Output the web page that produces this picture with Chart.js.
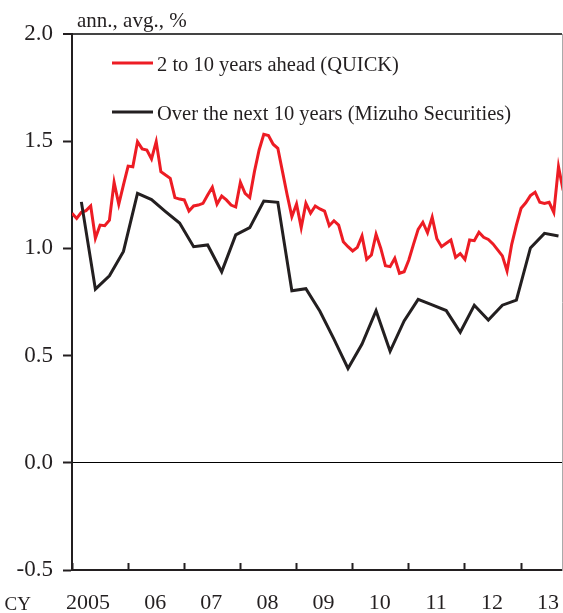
<!DOCTYPE html>
<html><head><meta charset="utf-8">
<script src="https://cdn.jsdelivr.net/npm/chart.js@4.4.1/dist/chart.umd.min.js"></script>
<style>html,body{margin:0;padding:0;background:#fff}#wrap{width:563px;height:613px;position:relative}</style>
</head><body><div id="wrap"><canvas id="c" width="563" height="613"></canvas></div>
<script>
// Calendar-year labels (ticks at January of each year)
const yearLabels = ['2005','06','07','08','09','10','11','12','13'];
// 2 to 10 years ahead (QUICK), monthly from Jan 2005
const quickValues = [
 1.164,1.140,1.168,1.176,1.198,1.047,1.109,1.106,1.132,1.308,1.206,1.296,
 1.384,1.381,1.498,1.464,1.459,1.417,1.498,1.358,1.342,1.327,1.237,1.230,
 1.226,1.174,1.198,1.202,1.210,1.249,1.285,1.206,1.244,1.226,1.202,1.193,
 1.308,1.257,1.237,1.358,1.459,1.532,1.526,1.486,1.467,1.358,1.249,1.148,
 1.207,1.097,1.210,1.164,1.198,1.184,1.174,1.106,1.129,1.109,1.031,1.008,
 0.988,1.005,1.058,0.949,0.969,1.066,1.001,0.919,0.915,0.954,0.884,0.891,
 0.946,1.019,1.089,1.122,1.073,1.145,1.045,1.008,1.024,1.039,0.958,0.976,
 0.949,1.039,1.036,1.075,1.052,1.042,1.021,0.993,0.965,0.895,1.019,1.109,
 1.187,1.213,1.246,1.262,1.215,1.210,1.215,1.168,1.381,1.270
];
// Over the next 10 years (Mizuho Securities), quarterly; month index from Jan 2005
const mizuhoMonths = [2,5,8,11,14,17,20,23,26,29,32,35,38,41,44,47,50,53,56,59,62,65,68,71,74,77,80,83,86,89,92,95,98,101,104];
const mizuhoValues = [
 1.217,0.810,0.872,0.986,1.257,1.228,1.172,1.118,1.008,1.016,0.891,1.063,
 1.097,1.221,1.215,0.802,0.812,0.707,0.577,0.440,0.554,0.709,0.520,0.662,
 0.762,0.737,0.710,0.609,0.735,0.666,0.735,0.759,1.002,1.070,1.058
];
const seriesNames = ['2 to 10 years ahead (QUICK)','Over the next 10 years (Mizuho Securities)'];
const yMin = -0.5, yMax = 2.0, yStep = 0.5;
const xMax = 104.75;

const TEXT = '#231f20';
const FONT = '"Liberation Serif", "Times New Roman", serif';

const overlay = {
  id: 'overlay',
  afterDraw(chart) {
    const ctx = chart.ctx;
    ctx.save();
    ctx.fillStyle = TEXT;
    ctx.textBaseline = 'alphabetic';
    ctx.textAlign = 'left';
    ctx.font = '21px ' + FONT;
    ctx.fillText('ann., avg., %', 77, 27);
    ctx.font = '19px ' + FONT;
    ctx.textAlign = 'right';
    ctx.fillText('CY', 31, 610);
    chart.data.datasets.forEach((ds, i) => {
      const y = 63 + i * 49;
      ctx.strokeStyle = ds.borderColor;
      ctx.lineWidth = 3;
      ctx.beginPath(); ctx.moveTo(112, y); ctx.lineTo(153, y); ctx.stroke();
      ctx.font = '20.5px ' + FONT;
      ctx.textAlign = 'left';
      ctx.fillStyle = TEXT;
      ctx.fillText(ds.label, 157, y + 8);
    });
    ctx.restore();
  }
};

new Chart(document.getElementById('c'), {
  type: 'line',
  data: {
    datasets: [
      { label: seriesNames[0], data: quickValues.map((v, i) => ({x: i, y: v})),
        borderColor: '#ed1c24', borderWidth: 3, pointRadius: 0, tension: 0, order: 1 },
      { label: seriesNames[1], data: mizuhoValues.map((v, i) => ({x: mizuhoMonths[i], y: v})),
        borderColor: '#231f20', borderWidth: 3, pointRadius: 0, tension: 0, order: 0 }
    ]
  },
  options: {
    responsive: false, animation: false, devicePixelRatio: 1,
    layout: { padding: { top: 34, right: 0, left: 0, bottom: 0 } },
    plugins: { legend: { display: false }, tooltip: { enabled: false } },
    scales: {
      x: {
        type: 'linear', min: 0, max: xMax,
        afterBuildTicks: s => { s.ticks = yearLabels.map((_, i) => ({ value: i * 12 })); },
        afterFit: s => { s.height = 43; },
        grid: { drawOnChartArea: false, tickLength: -7, tickColor: '#231f20', tickWidth: 2 },
        border: { color: '#231f20', width: 2 },
        ticks: {
          autoSkip: false, maxRotation: 0, minRotation: 0, align: 'end', labelOffset: 38,
          padding: 27, color: TEXT, font: { family: FONT, size: 22 },
          callback: (v, i) => yearLabels[i]
        }
      },
      y: {
        min: yMin, max: yMax,
        afterFit: s => { s.width = 72; },
        grid: {
          drawOnChartArea: true, tickLength: 9, tickWidth: 2, tickColor: '#231f20',
          color: c => c.tick.value === 0 ? '#000' : (c.tick.value === yMax ? '#444' : 'rgba(0,0,0,0)'),
          lineWidth: c => c.tick.value === yMax ? 2 : 1
        },
        border: { color: '#231f20', width: 2 },
        ticks: { stepSize: yStep, padding: 10, color: TEXT, font: { family: FONT, size: 23 },
          callback: v => v.toFixed(1) }
      },
      yRight: {
        position: 'right', min: yMin, max: yMax,
        afterFit: s => { s.width = 1; },
        grid: { drawOnChartArea: false, drawTicks: false },
        border: { color: '#aaaaaa', width: 1 },
        ticks: { display: false }
      }
    }
  },
  plugins: [overlay]
});
</script>
</body></html>
